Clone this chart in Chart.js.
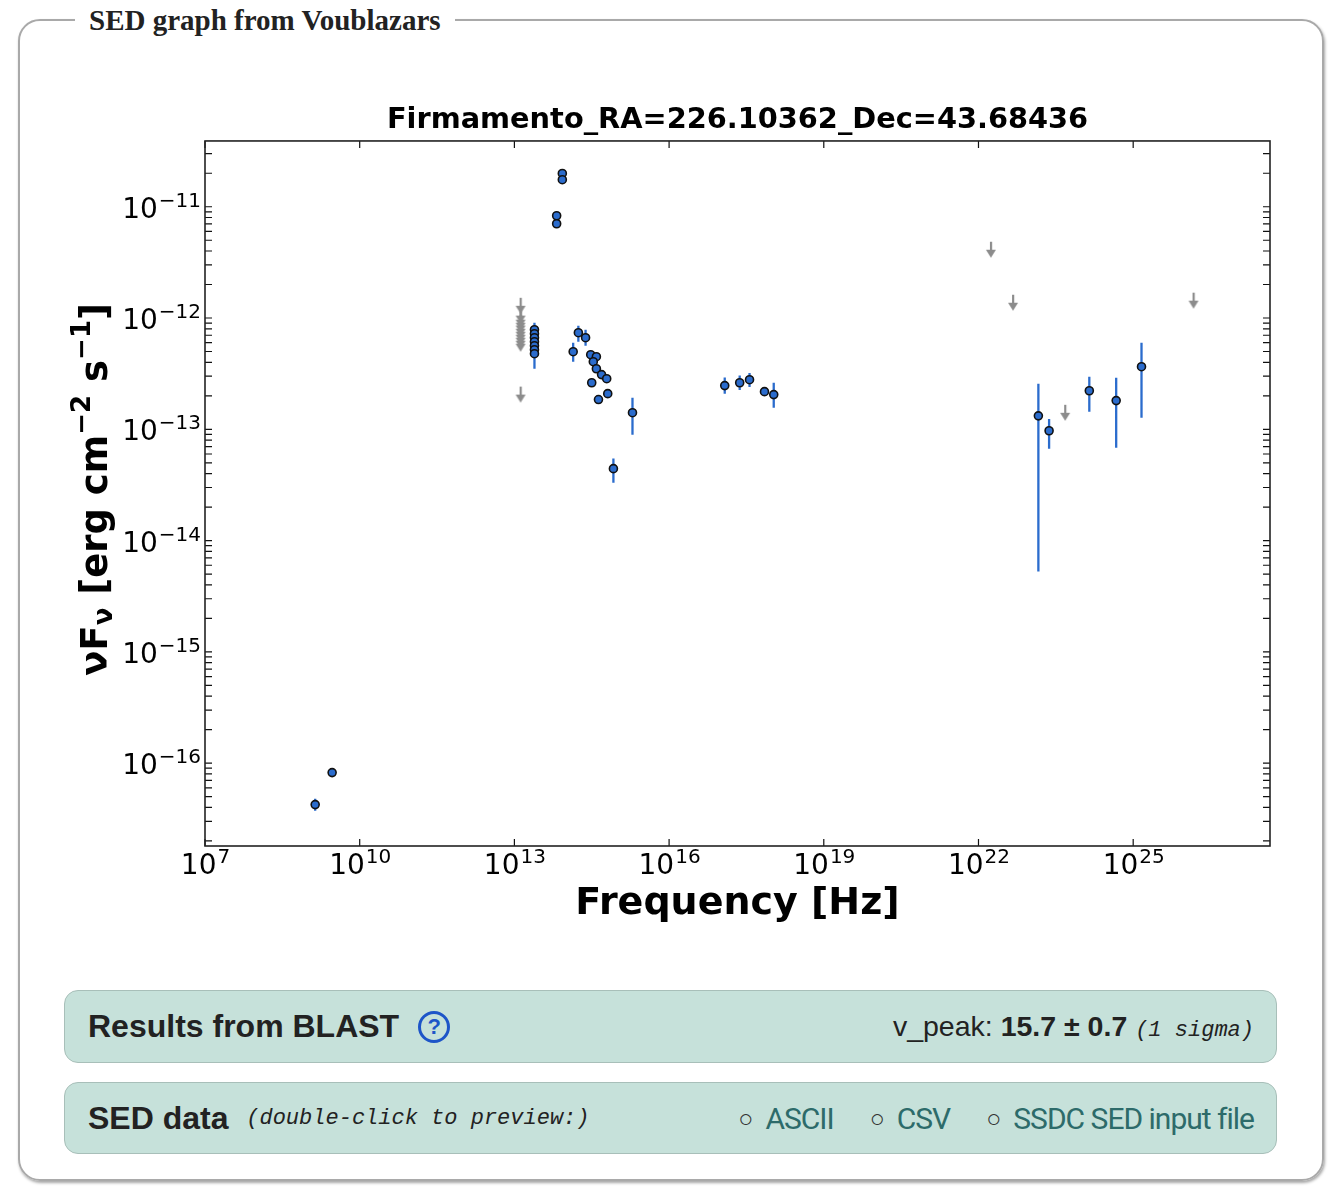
<!DOCTYPE html>
<html>
<head>
<meta charset="utf-8">
<script src="https://cdn.jsdelivr.net/npm/chart.js@4.4.0/dist/chart.umd.min.js"></script>
<style>
  html, body { margin: 0; padding: 0; background: #fff; }
  body { width: 1342px; height: 1196px; position: relative; overflow: hidden; font-family: "Liberation Sans", Arial, sans-serif; color: #222; }
  .frame {
    position: absolute; left: 18px; top: 19px; width: 1302px; height: 1158px;
    border: 2px solid #a9a9a9; border-radius: 22px;
    box-shadow: 1px 2px 3px rgba(0,0,0,0.35);
  }
  .legend {
    position: absolute; left: 55px; top: -18px; padding: 0 14px; background: #fff;
    font-family: "Liberation Serif", "Times New Roman", serif; font-weight: bold; font-size: 29px; color: #222;
    line-height: 34px;
  }
  #chartBox { position: absolute; left: 30px; top: 90px; width: 1270px; height: 851px; }
  .panel {
    position: absolute; left: 64px; width: 1213px; background: #c6e1da;
    border: 1px solid #a8bfb9; border-radius: 14px;
    display: flex; align-items: center; justify-content: space-between;
    box-sizing: border-box; padding: 0 22px 0 23px;
  }
  #p1 { top: 990px; height: 73px; }
  #p2 { top: 1082px; height: 72px; }
  .head { font-weight: bold; font-size: 32px; color: #222; display: flex; align-items: center; }
  .help {
    display: inline-block; width: 26px; height: 26px; border: 3px solid #1d55c8; border-radius: 50%;
    color: #1d55c8; font-size: 22px; line-height: 26px; text-align: center; margin-left: 19px; font-weight: bold;
  }
  .mono { font-family: "Liberation Mono", monospace; font-style: italic; font-weight: normal; font-size: 22px; }
  .peak { font-size: 28.5px; color: #222; }
  .links { font-family: "Roboto", sans-serif; font-size: 30px; color: #2d6b6a; letter-spacing: -1px; }
  .links span.b { color: #333; font-size: 25px; margin: 0 12px 0 36px; vertical-align: 2px; letter-spacing: 0; }
</style>
</head>
<body>
<div class="frame">
  <div class="legend">SED graph from Voublazars</div>
</div>
<div id="chartBox"><canvas id="sedChart"></canvas></div>

<div class="panel" id="p1">
  <div class="head">Results from BLAST <span class="help">?</span></div>
  <div class="peak">v_peak: <b>15.7 ± 0.7</b> <span class="mono">(1 sigma)</span></div>
</div>
<div class="panel" id="p2">
  <div class="head">SED data&nbsp;&nbsp;<span class="mono">(double-click to preview:)</span></div>
  <div class="links"><span class="b">○</span>ASCII<span class="b">○</span>CSV<span class="b">○</span>SSDC SED input file</div>
</div>

<script>
// --- data (Hz, erg cm^-2 s^-1) ---

const detFreq = [
    1.37e9, 2.92e9,
    2.45e13, 2.45e13, 2.45e13, 2.45e13, 2.45e13, 2.45e13, 2.45e13,
    8.5e13, 8.5e13, 6.6e13, 6.6e13,
    1.74e14, 2.40e14, 1.38e14, 3.02e14, 3.89e14, 3.39e14, 3.89e14, 4.90e14,
    6.17e14, 3.16e14, 6.46e14, 4.27e14, 1.95e15, 8.32e14,
    1.20e17, 2.34e17, 3.63e17, 7.08e17, 1.07e18,
    1.45e23, 2.34e23, 1.41e24, 4.68e24, 1.45e25
];
const detFlux = [
    4.24e-17, 8.22e-17,
    7.85e-13, 7.23e-13, 6.65e-13, 6.12e-13, 5.64e-13, 5.19e-13, 4.78e-13,
    1.99e-11, 1.75e-11, 8.30e-12, 7.03e-12,
    7.38e-13, 6.65e-13, 4.98e-13, 4.68e-13, 4.49e-13, 4.05e-13, 3.50e-13, 3.10e-13,
    2.85e-13, 2.62e-13, 2.09e-13, 1.85e-13, 1.41e-13, 4.43e-14,
    2.47e-13, 2.62e-13, 2.79e-13, 2.18e-13, 2.05e-13,
    1.32e-13, 9.70e-14, 2.22e-13, 1.81e-13, 3.65e-13
];
// error bar ends, null = no bar drawn
const detErrLo = [
    3.74e-17, null,
    7.0e-13, null, null, null, null, null, 3.50e-13,
    null, null, null, null,
    6.12e-13, 5.64e-13, 4.05e-13, null, null, null, null, null,
    null, null, null, null, 8.93e-14, 3.31e-14,
    2.09e-13, 2.25e-13, 2.40e-13, null, 1.56e-13,
    5.26e-15, 6.70e-14, 1.44e-13, 6.84e-14, 1.27e-13
];
const detErrHi = [
    4.79e-17, null,
    9.08e-13, null, null, null, null, null, 5.4e-13,
    null, null, null, null,
    8.53e-13, 7.85e-13, 6.0e-13, null, null, null, null, null,
    null, null, null, null, 1.92e-13, 5.45e-14,
    2.92e-13, 3.05e-13, 3.20e-13, null, 2.62e-13,
    2.57e-13, 1.24e-13, 2.97e-13, 2.91e-13, 6.0e-13
];

const ulFreq = [
    1.32e13, 1.32e13, 1.32e13, 1.32e13, 1.32e13, 1.32e13,
    1.32e13, 1.32e13, 1.32e13, 1.32e13, 1.32e13, 1.32e13,
    1.74e22, 4.68e22, 4.79e23, 1.48e26
];
const ulFlux = [
    1.52e-12, 1.24e-12, 1.14e-12, 1.07e-12, 1.01e-12, 9.46e-13,
    8.89e-13, 8.35e-13, 7.85e-13, 7.38e-13, 6.93e-13, 2.42e-13,
    4.85e-12, 1.62e-12, 1.66e-13, 1.69e-12
];

const xTickValues = [1e7, 1e10, 1e13, 1e16, 1e19, 1e22, 1e25];
const xTickExp = ['7', '10', '13', '16', '19', '22', '25'];
const yDecades = [-17, -16, -15, -14, -13, -12, -11];
const yTickExp = ['−17', '−16', '−15', '−14', '−13', '−12', '−11'];

const X_MIN = 1e7, X_MAX = 4.5e27;
const Y_MIN = 1.8e-17, Y_MAX = 3.9e-11;

const BLUE = '#2b6ccd';
const GREY = '#8c8c8c';
const FONT = 'DejaVu Sans';

// --- build datasets ---

const detPoints = detFreq.map((f, i) => ({ x: f, y: detFlux[i] }));

const errSegments = [];
detFreq.forEach((f, i) => {
    if (detErrLo[i] === null) return;
    errSegments.push({ x: f, y: detErrLo[i] });
    errSegments.push({ x: f, y: detErrHi[i] });
    errSegments.push({ x: f, y: null }); // break the line
});

const ulPoints = ulFreq.map((f, i) => ({ x: f, y: ulFlux[i] }));

// downward arrow for upper limits, value sits at the tail top (canvas centre)
function makeArrow() {
    const c = document.createElement('canvas');
    c.width = 12; c.height = 34;
    const g = c.getContext('2d');
    g.fillStyle = GREY;
    g.fillRect(5, 17, 2.2, 9);
    g.beginPath();
    g.moveTo(1, 25);
    g.lineTo(11, 25);
    g.lineTo(6, 33);
    g.closePath();
    g.fill();
    return c;
}

// y ticks: 1..9 x 10^n inside the range
const yTickValues = [];
yDecades.forEach(d => {
    for (let m = 1; m <= 9; m++) {
        const v = m * Math.pow(10, d);
        if (v >= Y_MIN && v <= Y_MAX) yTickValues.push({ value: v, m: m, d: d });
    }
});

// --- text helpers (mathtext-like base + exponent) ---

function drawPower(c, exp, x, y, align) {
    c.font = `28px "${FONT}"`;
    const wb = c.measureText('10').width;
    c.font = `20px "${FONT}"`;
    const we = c.measureText(exp).width;
    const total = wb + we;
    let x0 = align === 'right' ? x - total : x - total / 2;
    c.textAlign = 'left';
    c.textBaseline = 'alphabetic';
    c.font = `28px "${FONT}"`;
    c.fillText('10', x0, y);
    c.font = `20px "${FONT}"`;
    c.fillText(exp, x0 + wb + 1, y - 11);
}

function drawRich(c, parts, cx, cy, rot) {
    let w = 0;
    parts.forEach(p => {
        c.font = `bold ${p.size}px "${FONT}"`;
        p.w = c.measureText(p.t).width;
        w += p.w;
    });
    c.save();
    c.translate(cx, cy);
    c.rotate(rot);
    c.textAlign = 'left';
    c.textBaseline = 'middle';
    let x = -w / 2;
    parts.forEach(p => {
        c.font = `bold ${p.size}px "${FONT}"`;
        c.fillText(p.t, x, p.dy || 0);
        x += p.w;
    });
    c.restore();
}

const yTitleParts = [
    { t: 'νF', size: 37 },
    { t: 'ν', size: 26, dy: 8 },
    { t: ' [erg cm', size: 37 },
    { t: '−2', size: 26, dy: -14 },
    { t: ' s', size: 37 },
    { t: '−1', size: 26, dy: -14 },
    { t: ']', size: 37 }
];

// matplotlib-like frame with inward ticks on all four sides, plus tick labels
const frameTicks = {
    id: 'frameTicks',
    afterDraw(chart) {
        const { ctx, chartArea: a, scales } = chart;
        ctx.save();
        ctx.strokeStyle = '#111';
        ctx.lineWidth = 1.2;
        const L = 7;
        scales.x.ticks.forEach(t => {
            const px = scales.x.getPixelForValue(t.value);
            ctx.beginPath();
            ctx.moveTo(px, a.bottom); ctx.lineTo(px, a.bottom - L);
            ctx.moveTo(px, a.top); ctx.lineTo(px, a.top + L);
            ctx.stroke();
        });
        scales.y.ticks.forEach(t => {
            const py = scales.y.getPixelForValue(t.value);
            ctx.beginPath();
            ctx.moveTo(a.left, py); ctx.lineTo(a.left + L, py);
            ctx.moveTo(a.right, py); ctx.lineTo(a.right - L, py);
            ctx.stroke();
        });
        ctx.lineWidth = 1.6;
        ctx.strokeStyle = '#222';
        ctx.strokeRect(a.left, a.top, a.right - a.left, a.bottom - a.top);

        ctx.fillStyle = '#000';
        xTickValues.forEach((v, i) => {
            drawPower(ctx, xTickExp[i], scales.x.getPixelForValue(v), a.bottom + 28, 'center');
        });
        yDecades.forEach((d, i) => {
            const v = Math.pow(10, d);
            if (v < Y_MIN || v > Y_MAX) return;
            drawPower(ctx, yTickExp[i], a.left - 5, scales.y.getPixelForValue(v) + 11, 'right');
        });
        drawRich(ctx, yTitleParts, a.left - 108, (a.top + a.bottom) / 2 - 4, -Math.PI / 2);
        ctx.restore();
    }
};

const ctx = document.getElementById('sedChart').getContext('2d');
const sedChart = new Chart(ctx, {
    type: 'scatter',
    data: {
        datasets: [
            {
                label: 'detections',
                data: detPoints,
                pointRadius: 4,
                pointBackgroundColor: BLUE,
                pointBorderColor: '#111',
                pointBorderWidth: 1.6,
                order: 0
            },
            {
                label: 'errors',
                data: errSegments,
                showLine: true,
                spanGaps: false,
                borderColor: BLUE,
                borderWidth: 2.3,
                pointRadius: 0,
                order: 1
            },
            {
                label: 'upper limits',
                data: ulPoints,
                pointStyle: makeArrow(),
                order: 2
            }
        ]
    },
    options: {
        responsive: true,
        maintainAspectRatio: false,
        animation: false,
        events: [],
        layout: { padding: { left: 0, right: 30, top: 0, bottom: 0 } },
        plugins: {
            legend: { display: false },
            tooltip: { enabled: false },
            title: {
                display: true,
                fullSize: false,
                text: 'Firmamento_RA=226.10362_Dec=43.68436',
                color: '#000',
                font: { family: FONT, weight: 'bold', size: 28.8 },
                padding: { top: 13.7, bottom: 2.7 }
            }
        },
        scales: {
            x: {
                type: 'logarithmic',
                min: X_MIN,
                max: X_MAX,
                afterBuildTicks: s => { s.ticks = xTickValues.map(v => ({ value: v, major: true })); },
                afterFit: s => { s.height = 95; },
                grid: { display: false, drawTicks: false },
                border: { display: false },
                ticks: { display: false },
                title: {
                    display: true,
                    text: 'Frequency [Hz]',
                    color: '#000',
                    font: { family: FONT, weight: 'bold', size: 38 },
                    padding: { top: 0, bottom: 14 }
                }
            },
            y: {
                type: 'logarithmic',
                min: Y_MIN,
                max: Y_MAX,
                afterBuildTicks: s => { s.ticks = yTickValues.map(t => ({ value: t.value, major: t.m === 1 })); },
                afterFit: s => { s.width = 175; },
                grid: { display: false, drawTicks: false },
                border: { display: false },
                ticks: { display: false },
                title: { display: false }
            }
        }
    },
    plugins: [frameTicks]
});
</script>
</body>
</html>
